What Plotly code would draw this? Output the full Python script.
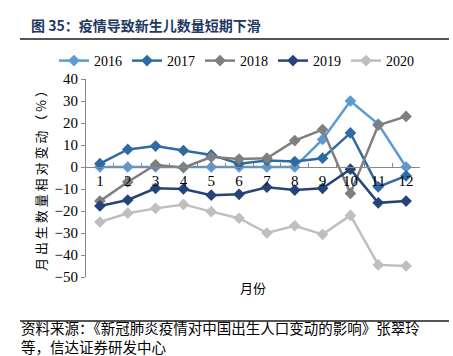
import plotly.graph_objects as go

months = [str(i) for i in range(1, 13)]
series_names = ["2016", "2017", "2018", "2019", "2020"]
v2016 = [0, 0, 0, 0, 0, 0, 0, 0, 12.5, 30, 19.5, 0]
v2017 = [1.5, 8, 9.5, 7.5, 5.5, 1.5, 3, 2.5, 4, 15.5, -9, -4]
v2018 = [-15.5, -6.8, 1, -0.3, 4.5, 3.6, 4, 12, 17, -12, 19, 23]
v2019 = [-17.7, -15, -9.7, -10, -12.8, -12.4, -9.2, -10.5, -9.7, -1, -16.3, -15.5]
v2020 = [-25, -21, -18.8, -17, -20.3, -23.3, -30, -26.7, -30.6, -22, -44.5, -45]
yticks = [40, 30, 20, 10, 0, -10, -20, -30, -40, -50]

colors = ["#5B9BD5", "#2E6AA3", "#7F7F7F", "#264478", "#BFBFBF"]
values = [v2016, v2017, v2018, v2019, v2020]

fig = go.Figure()
for name, vals, c in zip(series_names, values, colors):
    fig.add_trace(go.Scatter(
        x=months, y=vals, name=name, mode="lines+markers",
        line=dict(color=c, width=2.5),
        marker=dict(symbol="diamond", size=9, color=c),
    ))

W, H = 453, 356
L, R, T, B = 86, 33, 79, 79
pw, ph = W - L - R, H - T - B


def px(x):
    return (x - L) / pw


def py(y):
    return (H - B - y) / ph


serif = "Liberation Serif"
cjk = "Noto Sans CJK SC"

fig.update_layout(
    width=W, height=H, margin=dict(l=L, r=R, t=T, b=B, autoexpand=False),
    paper_bgcolor="white", plot_bgcolor="white",
    showlegend=True,
    legend=dict(orientation="h", x=px(54), y=py(61), xanchor="left", yanchor="middle",
                font=dict(family=serif, size=14, color="#000"),
                entrywidth=28, itemwidth=30, tracegroupgap=0,
                bgcolor="rgba(0,0,0,0)"),
    xaxis=dict(type="category", categoryorder="array", categoryarray=months,
               anchor="free", position=py(167),
               showline=True, linecolor="#898989", linewidth=1,
               ticks="inside", ticklen=4, tickcolor="#898989", tickson="boundaries",
               tickfont=dict(family=serif, size=15, color="#000"),
               showgrid=False, zeroline=False, range=[-0.5, 11.5]),
    yaxis=dict(range=[-50, 40], tickvals=yticks, showline=True, linecolor="#898989",
               linewidth=1, ticks="outside", ticklen=4, tickcolor="#898989",
               tickfont=dict(family=serif, size=15, color="#000"),
               showgrid=False, zeroline=False),
)

ann = [
    dict(text="<b>图 35：疫情导致新生儿数量短期下滑</b>", x=px(29), y=py(25), xanchor="left",
         yanchor="middle", font=dict(family=cjk, size=14, color="#1F3864")),
    dict(text="月 出 生 数 量 相 对 变 动 （ % ）", x=px(40), y=py(178), textangle=-90,
         xanchor="center", yanchor="middle", font=dict(family=cjk, size=13, color="#000")),
    dict(text="月份", x=px(253), y=py(287), xanchor="center", yanchor="middle",
         font=dict(family=cjk, size=13, color="#000")),
    dict(text="资料来源：《新冠肺炎疫情对中国出生人口变动的影响》张翠玲<br>等，信达证券研发中心",
         x=px(19), y=py(337), align="left",
         xanchor="left", yanchor="middle", font=dict(family=cjk, size=14.5, color="#000")),
]
for a in ann:
    a.update(xref="paper", yref="paper", showarrow=False)
fig.update_layout(annotations=ann)

fig.add_shape(type="line", xref="paper", yref="paper", x0=px(20), x1=px(449),
              y0=py(39), y1=py(39), line=dict(color="#555555", width=2))
fig.add_shape(type="line", xref="paper", yref="paper", x0=px(20), x1=px(449),
              y0=py(321), y1=py(321), line=dict(color="#555555", width=2))

fig.write_html("out.html", config={"displayModeBar": False},
               post_script="document.body.style.margin='0';document.body.style.overflow='hidden';")
